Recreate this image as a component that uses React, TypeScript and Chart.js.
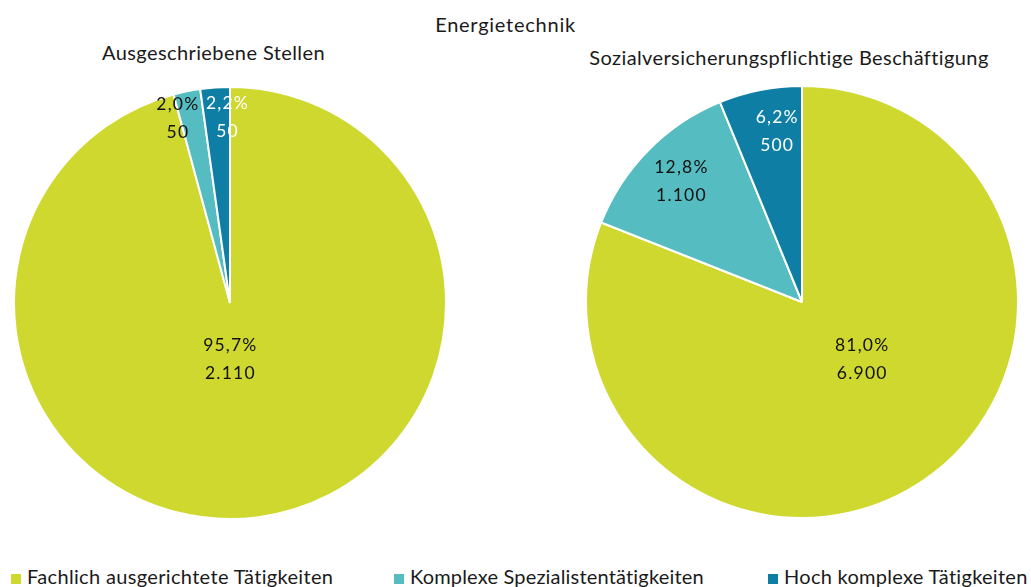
import React, { useEffect, useRef } from "react";
import { Chart, registerables } from "chart.js";

Chart.register(...registerables);

// ---- data ----
const categories = [
  "Fachlich ausgerichtete Tätigkeiten",
  "Komplexe Spezialistentätigkeiten",
  "Hoch komplexe Tätigkeiten",
];
const sliceColors = ["#CED82E", "#55BDC1", "#0E7EA5"];
const labelColors = ["#111111", "#111111", "#FFFFFF"];
const mainTitle = "Energietechnik";
const leftTitle = "Ausgeschriebene Stellen";
const rightTitle = "Sozialversicherungspflichtige Beschäftigung";
const leftShares = [95.7, 2.0, 2.2];
const leftCounts = [2110, 50, 50];
const rightShares = [81.0, 12.8, 6.2];
const rightCounts = [6900, 1100, 500];

const FONT = "Lato, 'Open Sans', sans-serif";

const fmtPct = (v: number) => v.toFixed(1).replace(".", ",") + "%";
const fmtCount = (n: number) => String(n).replace(/\B(?=(\d{3})+(?!\d))/g, ".");

const sliceLabelPlugin = {
  id: "sliceLabels",
  afterDatasetsDraw(chart: any, _args: any, opts: any) {
    const ctx = chart.ctx as CanvasRenderingContext2D;
    const meta = chart.getDatasetMeta(0);
    const shares: number[] = chart.data.datasets[0].data;
    meta.data.forEach((arc: any, i: number) => {
      const p = arc.getProps(["x", "y", "startAngle", "endAngle", "outerRadius"], true);
      const a = (p.startAngle + p.endAngle) / 2 + (opts.shift[i] * Math.PI) / 180;
      const d = opts.dist[i] * p.outerRadius;
      const cx = p.x + Math.cos(a) * d;
      const cy = p.y + Math.sin(a) * d;
      ctx.save();
      ctx.font = `17.5px ${FONT}`;
      (ctx as any).letterSpacing = "1.2px";
      ctx.fillStyle = labelColors[i];
      ctx.textAlign = "center";
      ctx.textBaseline = "middle";
      ctx.fillText(fmtPct(shares[i]), cx, cy - 14);
      ctx.fillText(fmtCount(opts.counts[i]), cx, cy + 14);
      ctx.restore();
    });
  },
};

type PieProps = {
  shares: number[];
  counts: number[];
  dist: number[];
  shift: number[];
  left: number;
  top: number;
};

function PieChart({ shares, counts, dist, shift, left, top }: PieProps) {
  const ref = useRef<HTMLCanvasElement>(null);
  useEffect(() => {
    const chart = new Chart(ref.current as HTMLCanvasElement, {
      type: "pie",
      data: {
        labels: categories,
        datasets: [
          {
            data: shares,
            backgroundColor: sliceColors,
            borderColor: "#FFFFFF",
            borderWidth: 2,
          },
        ],
      },
      options: {
        responsive: false,
        animation: false,
        events: [],
        plugins: {
          legend: { display: false },
          tooltip: { enabled: false },
          // @ts-ignore
          sliceLabels: { dist, shift, counts },
        },
      },
      plugins: [sliceLabelPlugin as any],
    });
    return () => chart.destroy();
  }, []);
  return (
    <canvas
      ref={ref}
      width={434}
      height={434}
      style={{ position: "absolute", left, top, width: 434, height: 434 }}
    />
  );
}

function Text({
  text,
  cx,
  baseline,
  size,
  spacing = 0,
  align = "center",
}: {
  text: string;
  cx: number;
  baseline: number;
  size: number;
  spacing?: number;
  align?: "center" | "left";
}) {
  const lh = Math.round(size * 1.2);
  const style: React.CSSProperties = {
    position: "absolute",
    top: baseline - size * 0.987,
    height: lh,
    lineHeight: `${lh}px`,
    fontFamily: FONT,
    fontSize: size,
    letterSpacing: spacing,
    color: "#1a1a1a",
    whiteSpace: "nowrap",
  };
  if (align === "center") {
    style.left = cx - 400;
    style.width = 800;
    style.textAlign = "center";
  } else {
    style.left = cx;
  }
  return <div style={style}>{text}</div>;
}

const legendX = [11, 394, 768];
const legendSpacing = [0.34, 0.18, 0.29];

export default function App() {
  return (
    <div
      style={{
        position: "absolute",
        left: 0,
        top: 0,
        width: 1031,
        height: 587,
        background: "#FFFFFF",
        overflow: "hidden",
      }}
    >
      <Text text={mainTitle} cx={505.5} baseline={32} size={20} spacing={0.75} />
      <Text text={leftTitle} cx={213.5} baseline={60} size={20} spacing={0.4} />
      <Text text={rightTitle} cx={789} baseline={65} size={20} spacing={0.4} />
      <PieChart
        shares={leftShares}
        counts={leftCounts}
        dist={[0.26, 0.89, 0.86]}
        shift={[7.2, -4.2, 3.2]}
        left={13}
        top={86}
      />
      <PieChart
        shares={rightShares}
        counts={rightCounts}
        dist={[0.385, 0.79, 0.8]}
        shift={[-12.2, 0.4, 2.9]}
        left={585}
        top={85}
      />
      {categories.map((c, i) => (
        <React.Fragment key={c}>
          <div
            style={{
              position: "absolute",
              left: legendX[i],
              top: 574,
              width: 10,
              height: 10,
              background: sliceColors[i],
            }}
          />
          <Text
            text={c}
            cx={legendX[i] + 16}
            baseline={584}
            size={20}
            spacing={legendSpacing[i]}
            align="left"
          />
        </React.Fragment>
      ))}
    </div>
  );
}
